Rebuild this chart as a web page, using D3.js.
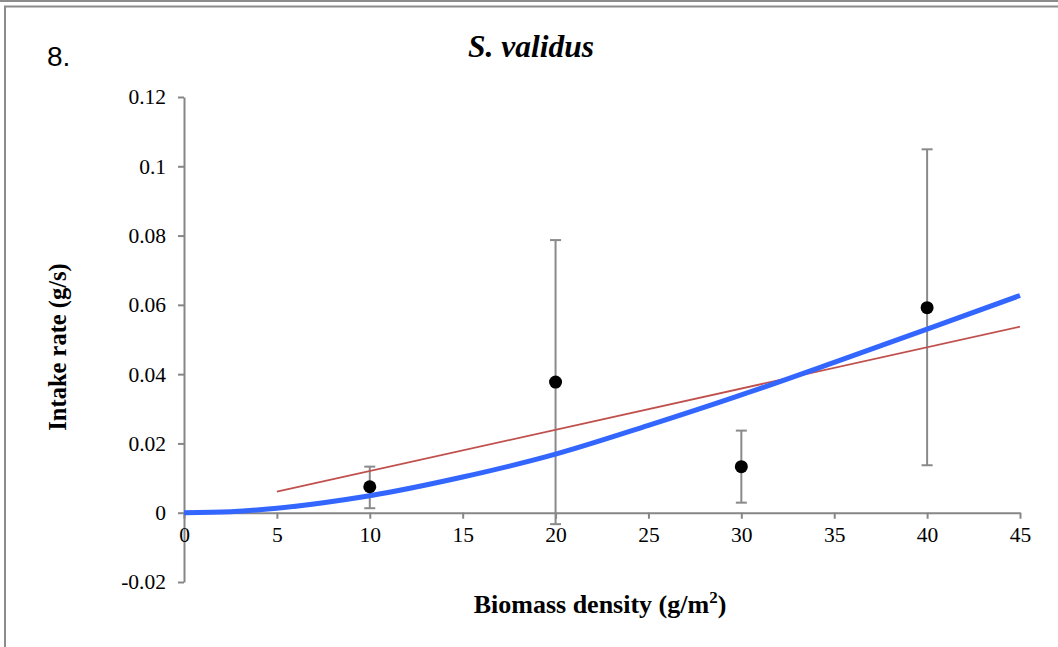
<!DOCTYPE html>
<html>
<head>
<meta charset="utf-8">
<script src="https://cdn.jsdelivr.net/npm/d3@7"></script>
<style>
body { margin: 0; background: #fff; }
svg { display: block; }
</style>
</head>
<body>
<svg id="chart" width="1058" height="647"></svg>
<script>
// observed means and error bars
var densities = [10, 20, 30, 40];
var intake = [0.0075, 0.0377, 0.0133, 0.0592];
var errHigh = [0.0133, 0.0787, 0.0237, 0.1049];
var errLow = [0.0013, -0.0033, 0.0029, 0.0137];

// linear fit (red)
var linX = [5, 45];
var linY = [0.0061, 0.0537];

// fitted curve (blue)
var curveX = [0, 2.5, 5, 7.5, 10, 15, 20, 25, 30, 35, 40, 45];
var curveY = [0, 0.0003, 0.0013, 0.0029, 0.0049, 0.0103, 0.0169, 0.0252, 0.034, 0.0434, 0.053, 0.0627];

var xTicks = [0, 5, 10, 15, 20, 25, 30, 35, 40, 45];
var yTicks = [-0.02, 0, 0.02, 0.04, 0.06, 0.08, 0.1, 0.12];
var yTickLabels = ["-0.02", "0", "0.02", "0.04", "0.06", "0.08", "0.1", "0.12"];

var svg = d3.select("#chart");
var axisColor = "#868686";
var serif = "'Liberation Serif', 'Times New Roman', serif";

// frame
svg.append("line").attr("x1", 0).attr("x2", 1058).attr("y1", 1).attr("y2", 1)
  .attr("stroke", "#8c8c8c").attr("stroke-width", 2);
svg.append("path").attr("d", "M5,647 V6.5 H1058")
  .attr("fill", "none").attr("stroke", "#8c8c8c").attr("stroke-width", 2);

var x = d3.scaleLinear().domain([0, 45]).range([184, 1020]);
var y = d3.scaleLinear().domain([-0.02, 0.12]).range([582, 97]);

// y axis
var yAxis = svg.append("g")
  .attr("transform", "translate(" + x(0) + ",0)")
  .call(d3.axisLeft(y).tickValues(yTicks).tickSize(6).tickSizeOuter(0)
    .tickPadding(12)
    .tickFormat(function(d, i) { return yTickLabels[i]; }));

// x axis at y = 0
var xAxis = svg.append("g")
  .attr("transform", "translate(0," + y(0) + ")")
  .call(d3.axisBottom(x).tickValues(xTicks).tickSize(6).tickSizeOuter(0)
    .tickPadding(8)
    .tickFormat(d3.format("d")));

[xAxis, yAxis].forEach(function(g) {
  g.select(".domain").attr("stroke", axisColor).attr("stroke-width", 2);
  g.selectAll(".tick line").attr("stroke", axisColor).attr("stroke-width", 2);
  g.selectAll(".tick text").attr("fill", "#000")
    .attr("font-family", serif).attr("font-size", "21.5px");
});

// error bars
var bars = svg.append("g");
densities.forEach(function(d, i) {
  var cx = x(d);
  bars.append("line").attr("x1", cx).attr("x2", cx)
    .attr("y1", y(errHigh[i])).attr("y2", y(errLow[i]));
  [errHigh[i], errLow[i]].forEach(function(v) {
    bars.append("line").attr("x1", cx - 5.5).attr("x2", cx + 5.5)
      .attr("y1", y(v)).attr("y2", y(v));
  });
});
bars.selectAll("line").attr("stroke", "#8a8a8a").attr("stroke-width", 2);

// linear fit
svg.append("path")
  .datum(d3.zip(linX, linY))
  .attr("fill", "none")
  .attr("stroke", "#c0504d")
  .attr("stroke-width", 1.8)
  .attr("d", d3.line().x(function(d) { return x(d[0]); }).y(function(d) { return y(d[1]); }));

// fitted curve
svg.append("path")
  .datum(d3.zip(curveX, curveY))
  .attr("fill", "none")
  .attr("stroke", "#3366ff")
  .attr("stroke-width", 5)
  .attr("d", d3.line().curve(d3.curveMonotoneX)
    .x(function(d) { return x(d[0]); }).y(function(d) { return y(d[1]); }));

// points
svg.append("g").selectAll("circle")
  .data(d3.zip(densities, intake))
  .enter()
  .append("circle")
  .attr("cx", function(d) { return x(d[0]); })
  .attr("cy", function(d) { return y(d[1]); })
  .attr("r", 6.5)
  .attr("fill", "#000");

// labels
svg.append("text")
  .attr("x", 47).attr("y", 66)
  .attr("font-family", "'Liberation Sans', Arial, sans-serif")
  .attr("font-size", "28px")
  .text("8.");

svg.append("text")
  .attr("x", 531).attr("y", 57)
  .attr("text-anchor", "middle")
  .attr("font-family", serif)
  .attr("font-size", "31.5px")
  .attr("font-weight", "bold")
  .attr("font-style", "italic")
  .text("S. validus");

var xl = svg.append("text")
  .attr("x", 600).attr("y", 613)
  .attr("text-anchor", "middle")
  .attr("font-family", serif)
  .attr("font-size", "26px")
  .attr("font-weight", "bold");
xl.append("tspan").text("Biomass density (g/m");
xl.append("tspan").attr("font-size", "17px").attr("dy", -10).text("2");
xl.append("tspan").attr("dy", 10).text(")");

svg.append("text")
  .attr("transform", "translate(66,347) rotate(-90)")
  .attr("text-anchor", "middle")
  .attr("font-family", serif)
  .attr("font-size", "24.5px")
  .attr("font-weight", "bold")
  .text("Intake rate (g/s)");
</script>
</body>
</html>
